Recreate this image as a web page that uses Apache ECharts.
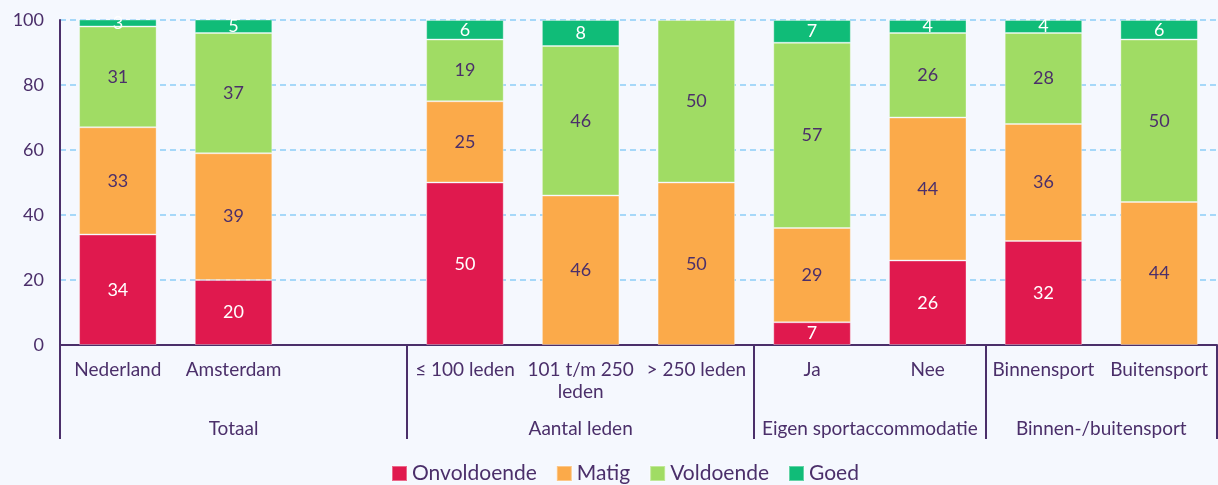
<html>
<head>
<meta charset="utf-8">
<title></title>
<script src="https://cdn.jsdelivr.net/npm/echarts@6/dist/echarts.min.js"></script>
<style>
    body{margin:0;background:#f5f8fe;}
</style>
</head>
<body>
<div id="main" style="width:1218px;height:485px;"></div>
<script>
    // categorieen (lege plek tussen Totaal en Aantal leden)
    var categories=['Nederland','Amsterdam','','≤ 100 leden','101 t/m 250\nleden','> 250 leden','Ja','Nee','Binnensport','Buitensport'];
    var onvoldoende=[34,20,null,50,null,null,7,26,32,null];
    var matig=[33,39,null,25,46,50,29,44,36,44];
    var voldoende=[31,37,null,19,46,50,57,26,28,50];
    var goed=[3,5,null,6,8,null,7,4,4,6];
    var yTicks=[0,20,40,60,80,100];

    // groepen op halve-plek posities: 0..20
    var groups={3:'Totaal',9:'Aantal leden',14:'Eigen sportaccommodatie',18:'Binnen-/buitensport'};
    var groupBounds=[0,6,12,16,20];

    var txt='#4b2f6a';
    var myChart=echarts.init(document.getElementById('main'));

    var halfSlots=[];
    for(var i=0;i<=20;i++){
        halfSlots.push(groups[i]||'');
    }

    function serie(name,data,color,labelColor){
        return {
            name:name,
            type:'bar',
            stack:'tot',
            data:data,
            barCategoryGap:'33%',
            itemStyle:{color:color,borderColor:'rgba(255,255,255,0.35)',borderWidth:1},
            label:{show:true,position:'inside',color:labelColor,fontSize:18,fontFamily:'Lato',
                formatter:function(p){return p.value==null?'':p.value;}}
        };
    }

    var option={
        backgroundColor:'#f5f8fe',
        textStyle:{fontFamily:'Lato'},
        grid:{left:60,right:1,top:20,bottom:140,containLabel:false},
        legend:{
            bottom:-4,
            left:386,
            itemWidth:15,
            itemHeight:15,
            itemGap:19,
            icon:'rect',
            textStyle:{fontSize:21,color:txt,fontFamily:'Lato'},
            data:['Onvoldoende','Matig','Voldoende','Goed']
        },
        xAxis:[{
            type:'category',
            data:categories,
            axisLine:{lineStyle:{color:txt,width:2}},
            axisTick:{show:false},
            axisLabel:{color:txt,fontSize:19,fontFamily:'Lato',margin:14,interval:0,lineHeight:22}
        },{
            type:'category',
            data:halfSlots,
            position:'bottom',
            boundaryGap:false,
            axisLine:{show:false},
            axisTick:{show:true,length:94,lineStyle:{color:txt,width:2},
                interval:function(i){return groupBounds.indexOf(i)>=0;}},
            axisLabel:{color:txt,fontSize:19,fontFamily:'Lato',margin:74,
                interval:function(i){return !!groups[i];}}
        }],
        yAxis:{
            type:'value',
            min:yTicks[0],
            max:yTicks[yTicks.length-1],
            interval:20,
            axisLine:{show:true,lineStyle:{color:txt,width:2}},
            axisTick:{show:false},
            axisLabel:{color:txt,fontSize:18,fontFamily:'Lato',margin:16},
            splitLine:{lineStyle:{color:'#8ccdf7',type:[6,4],width:1.5}}
        },
        series:[
            serie('Onvoldoende',onvoldoende,'#e0194e','#ffffff'),
            serie('Matig',matig,'#fbaa4a',txt),
            serie('Voldoende',voldoende,'#a0dc64',txt),
            serie('Goed',goed,'#10bc78','#ffffff')
        ]
    };

    myChart.setOption(option);
</script>
</body>
</html>
